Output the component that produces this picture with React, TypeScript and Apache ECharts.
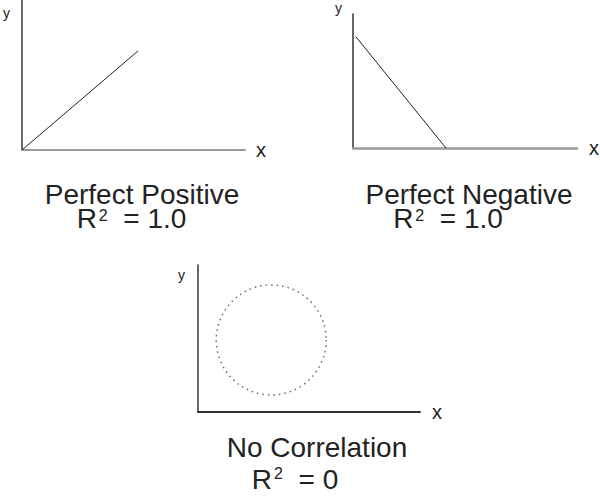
import React, { useEffect, useRef } from "react";
import * as echarts from "echarts";

// Panel captions
const captions = ["Perfect Positive", "Perfect Negative", "No Correlation"];
const r2Values = ["1.0", "1.0", "0"];

// Perfect positive line
const posX = [0, 52];
const posY = [0, 66];

// Perfect negative line
const negX = [1.3, 41.5];
const negY = [83, 0];

// No correlation: ring of points centred here
const ringCenter = [33, 49];

const FONT = "Liberation Sans, Arial, sans-serif";

export default function App() {
  const ref = useRef<HTMLDivElement>(null);
  useEffect(() => {
    document.body.style.margin = "0";
    const chart = echarts.init(ref.current!, null, { renderer: "svg" });
    const mkX = (idx: number, color: string, width: number, gap: number) => ({
      type: "value",
      gridIndex: idx,
      min: 0,
      max: 100,
      name: "x",
      nameLocation: "end",
      nameGap: gap,
      nameTextStyle: { fontSize: 20, color: "#222", fontFamily: FONT },
      axisLine: { show: true, lineStyle: { color, width } },
      axisTick: { show: false },
      axisLabel: { show: false },
      splitLine: { show: false },
    });
    const mkY = (idx: number, gap: number, pad: number) => ({
      type: "value",
      gridIndex: idx,
      min: 0,
      max: 100,
      name: "y",
      nameLocation: "end",
      nameGap: gap,
      nameTextStyle: {
        fontSize: 14,
        color: "#222",
        fontFamily: FONT,
        align: "right",
        verticalAlign: "middle",
        padding: [0, pad, 0, 0],
      },
      axisLine: { show: true, onZero: false, lineStyle: { color: "#333", width: 1.5 } },
      axisTick: { show: false },
      axisLabel: { show: false },
      splitLine: { show: false },
    });
    const caption = (
      i: number,
      cx: number,
      top: number,
      line2H: number,
      supPad: number,
      padR: number
    ) => ({
      type: "text",
      x: cx,
      y: top,
      style: {
        text: `{c|${captions[i]}}\n{r|R}{s|2}{e|  = ${r2Values[i]}}`,
        align: "center",
        verticalAlign: "top",
        fill: "#222",
        rich: {
          c: { fontSize: 28, lineHeight: 24, fontFamily: FONT, fill: "#222" },
          r: { fontSize: 28, lineHeight: line2H, fontFamily: FONT, fill: "#222" },
          e: {
            fontSize: 28,
            lineHeight: line2H,
            fontFamily: FONT,
            fill: "#222",
            padding: [0, padR, 0, 0],
          },
          s: {
            fontSize: 16,
            lineHeight: 16,
            fontFamily: FONT,
            fill: "#222",
            verticalAlign: "top",
            padding: [supPad, 0, 0, 2],
          },
        },
      },
    });
    chart.setOption({
      animation: false,
      backgroundColor: "#fff",
      grid: [
        { left: 22, top: 0, width: 223, height: 150 },
        { left: 353, top: 14, width: 224, height: 134 },
        { left: 198, top: 265, width: 222, height: 147 },
      ],
      xAxis: [mkX(0, "#999", 2, 11), mkX(1, "#999", 2.5, 12), mkX(2, "#333", 2, 12)],
      yAxis: [mkY(0, -13, 12), mkY(1, 6, 11), mkY(2, -10, 13)],
      series: [
        {
          type: "line",
          xAxisIndex: 0,
          yAxisIndex: 0,
          data: posX.map((x, i) => [x, posY[i]]),
          symbol: "none",
          lineStyle: { color: "#222", width: 1 },
        },
        {
          type: "line",
          xAxisIndex: 1,
          yAxisIndex: 1,
          data: negX.map((x, i) => [x, negY[i]]),
          symbol: "none",
          lineStyle: { color: "#222", width: 1 },
        },
        {
          type: "scatter",
          xAxisIndex: 2,
          yAxisIndex: 2,
          data: [ringCenter],
          symbol: "circle",
          symbolSize: 110,
          itemStyle: {
            color: "transparent",
            borderColor: "#444",
            borderWidth: 1.5,
            borderType: [1.5, 4],
          },
        },
      ],
      graphic: [
        caption(0, 142, 182, 24, 1, 21),
        caption(1, 469, 182, 24, 1, 42),
        caption(2, 317, 435, 40, 6, 44),
      ],
    });
    return () => chart.dispose();
  }, []);
  return <div ref={ref} style={{ width: 600, height: 502 }} />;
}
